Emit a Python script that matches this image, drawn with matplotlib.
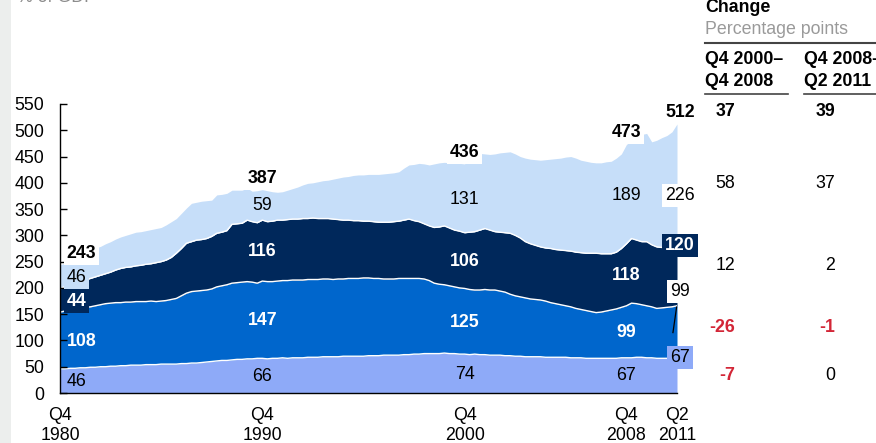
import numpy as np
import matplotlib
matplotlib.use("Agg")
import matplotlib.pyplot as plt
from matplotlib.transforms import blended_transform_factory
from matplotlib.patches import Rectangle
from matplotlib.lines import Line2D

plt.rcParams['font.family'] = ['Liberation Sans', 'DejaVu Sans']

# ---------------- data (% of GDP), quarterly Q4 1980 .. Q2 2011 ----------------
start_year = 1980.75  # Q4 1980
households = [
    46, 46, 47, 47, 48, 48, 49, 49, 50, 50,
    51, 51, 52, 52, 53, 53, 53, 54, 54, 54,
    55, 55, 55, 55, 56, 56, 57, 57, 58, 59,
    60, 61, 62, 62, 63, 64, 64, 65, 65, 66,
    66, 65, 66, 66, 67, 66, 67, 67, 67, 68,
    68, 68, 69, 69, 69, 69, 70, 70, 70, 70,
    70, 71, 71, 71, 72, 72, 72, 72, 73, 73,
    74, 74, 75, 75, 75, 75, 76, 75, 75, 74,
    74, 73, 74, 73, 73, 72, 72, 72, 71, 71,
    70, 70, 69, 69, 69, 69, 68, 68, 68, 68,
    68, 67, 67, 67, 66, 66, 66, 66, 66, 66,
    66, 67, 67, 67, 68, 68, 67, 67, 66, 66,
    66, 66, 67]
corporations = [
    108, 110, 111, 113, 114, 115, 115, 117, 118, 120,
    120, 121, 120, 121, 120, 121, 121, 120, 121, 120,
    120, 121, 123, 125, 129, 134, 136, 137, 137, 137,
    138, 141, 142, 144, 146, 146, 147, 147, 146, 143,
    147, 147, 146, 147, 147, 148, 148, 148, 148, 148,
    148, 148, 148, 148, 147, 148, 147, 148, 148, 148,
    149, 148, 147, 147, 145, 145, 145, 146, 145, 145,
    144, 144, 142, 139, 134, 132, 130, 129, 127, 126,
    125, 124, 122, 123, 124, 124, 124, 122, 121, 117,
    115, 113, 112, 110, 109, 108, 107, 104, 102, 100,
    98, 97, 94, 92, 91, 89, 87, 88, 90, 92,
    94, 96, 99, 104, 102, 100, 99, 97, 95, 96,
    97, 98, 99]
financial = [
    44, 47, 49, 50, 51, 52, 54, 55, 56, 57,
    59, 62, 65, 66, 67, 68, 69, 71, 71, 74,
    75, 77, 80, 86, 90, 95, 95, 97, 97, 98,
    100, 102, 102, 103, 112, 112, 112, 117, 115, 115,
    116, 114, 115, 116, 115, 116, 116, 116, 117, 116,
    117, 116, 115, 115, 115, 113, 112, 111, 110, 110,
    108, 108, 108, 107, 108, 108, 109, 109, 111, 113,
    110, 108, 105, 104, 106, 109, 112, 110, 108, 108,
    106, 109, 111, 114, 116, 114, 111, 112, 113, 116,
    115, 112, 107, 105, 103, 101, 101, 103, 103, 104,
    105, 106, 107, 108, 109, 111, 113, 111, 109, 107,
    108, 112, 118, 123, 121, 120, 122, 118, 117, 115,
    114, 112, 120]
government = [
    46, 44, 45, 46, 47, 50, 52, 55, 55, 57,
    58, 59, 60, 61, 63, 64, 64, 64, 65, 65,
    65, 67, 68, 66, 67, 67, 73, 72, 73, 72,
    69, 73, 72, 71, 65, 64, 63, 61, 58, 61,
    58, 59, 56, 53, 54, 56, 58, 61, 64, 67,
    67, 70, 72, 73, 76, 79, 82, 83, 86, 87,
    88, 89, 90, 91, 92, 93, 93, 94, 99, 103,
    107, 111, 114, 116, 121, 122, 121, 124, 127, 129,
    131, 144, 148, 146, 142, 144, 148, 151, 153, 155,
    155, 155, 159, 161, 163, 165, 168, 170, 173, 175,
    178, 180, 179, 176, 175, 173, 172, 173, 175, 176,
    179, 180, 189, 186, 197, 204, 206, 196, 203, 209,
    213, 221, 226]

tick_years = [1980.75, 1990.75, 2000.75, 2008.75, 2011.25]
tick_labels = ["Q4\n1980", "Q4\n1990", "Q4\n2000", "Q4\n2008", "Q2\n2011"]

# labelled quarters and values as printed on the chart
label_years = [1980.75, 1990.75, 2000.75, 2008.75]
lab_total = [243, 387, 436, 473]
lab_gov = [46, 59, 131, 189]
lab_fin = [44, 116, 106, 118]
lab_corp = [108, 147, 125, 99]
lab_hh = [46, 66, 74, 67]
end_total, end_gov, end_fin, end_corp, end_hh = 512, 226, 120, 99, 67

# change table (percentage points)
change_cols = ["Q4 2000–\nQ4 2008", "Q4 2008–\nQ2 2011"]
change_total = [37, 39]
change_gov = [58, 37]
change_fin = [12, 2]
change_corp = [-26, -1]
change_hh = [-7, 0]

# ---------------- style ----------------
C_HH = '#8EAAF8'
C_CORP = '#0066CC'
C_FIN = '#00285B'
C_GOV = '#C6DEF9'
C_RED = '#D32637'
FS = 12.8

W, H = 876, 443
fig = plt.figure(figsize=(W / 100, H / 100), dpi=100)
def fx(px): return px / W
def fy(py): return 1 - py / H

ax = fig.add_axes([fx(60), fy(393), fx(677) - fx(60), fy(104) - fy(393)])

# left gray strip
fig.patches.append(Rectangle((0, 0), fx(11), 1, transform=fig.transFigure,
                             facecolor='#ECEEED', edgecolor='none', zorder=0))

hh = np.array(households, float)
co = np.array(corporations, float)
fi = np.array(financial, float)
gv = np.array(government, float)
years = start_year + 0.25 * np.arange(len(hh))
b1 = hh
b2 = b1 + co
b3 = b2 + fi
b4 = b3 + gv

ax.fill_between(years, 0, b1, color=C_HH, lw=0, zorder=1)
ax.fill_between(years, b1, b2, color=C_CORP, lw=0, zorder=1)
ax.fill_between(years, b2, b3, color=C_FIN, lw=0, zorder=1)
ax.fill_between(years, b3, b4, color=C_GOV, lw=0, zorder=1)
for b in (b1, b2, b3):
    ax.plot(years, b, color='white', lw=1.0, zorder=1.2)

ax.set_xlim(start_year, years[-1])
ax.set_ylim(0, 550)
ax.set_yticks(np.arange(0, 551, 50))
ax.tick_params(axis='y', direction='in', length=5, width=1, labelsize=FS,
               pad=11.5, colors='black')
ax.set_xticks([])
for s in ('top', 'right'):
    ax.spines[s].set_visible(False)
ax.spines['left'].set_linewidth(1)
ax.spines['bottom'].set_linewidth(1)

# x labels
tr = blended_transform_factory(ax.transData, fig.transFigure)
for yv, lab in zip(tick_years, tick_labels):
    l1, l2 = lab.split("\n")
    ax.text(yv, fy(416), l1, transform=tr, ha='center', va='center', fontsize=FS)
    ax.text(yv, fy(436), l2, transform=tr, ha='center', va='center', fontsize=FS)

def idx(yr):
    return int(round((yr - start_year) / 0.25))

def put(x, y, s, color='black', bold=False, ha='center', box=None):
    kw = {}
    if box is not None:
        kw['bbox'] = dict(facecolor=box, edgecolor='none', pad=2.2)
    ax.text(x, y, s, color=color, ha=ha, va='center', fontsize=FS,
            fontweight='bold' if bold else 'normal', zorder=5, **kw)

for k, yr in enumerate(label_years):
    i = idx(yr)
    first = (k == 0)
    x = yr + 0.33 if first else yr
    ha = 'left' if first else 'center'
    put(x, b4[i] + 22, str(lab_total[k]), bold=True, ha=ha, box='white')
    put(x, (b3[i] + b4[i]) / 2 - 2, str(lab_gov[k]), ha=ha, box=C_GOV if first else None)
    put(x, (b2[i] + b3[i]) / 2 - 2, str(lab_fin[k]), color='white', bold=True, ha=ha,
        box=C_FIN if first else None)
    put(x, (b1[i] + b2[i]) / 2 - 2, str(lab_corp[k]), color='white', bold=True, ha=ha)
    put(x, b1[i] / 2 - 1, str(lab_hh[k]), ha=ha)

# end-of-series labels
xe = years[-1] + 0.15
put(xe, b4[-1] + 22, str(end_total), bold=True)
put(xe, b4[-1] - 137, str(end_gov), box='white')
put(xe, b3[-1] - 5, str(end_fin), color='white', bold=True, box=C_FIN)
put(xe, b2[-1] + 27, str(end_corp), box='white')
put(xe, b1[-1] + 0.5, str(end_hh), box=C_HH)
ax.plot([years[-1] - 0.02, years[-1] - 0.2], [b2[-1] - 2.5, (b1[-1] + b2[-1]) / 2 - 1.5],
        color='black', lw=0.9, zorder=4, clip_on=False)

# title fragment at the very top (cut off, as in the source)
fig.text(fx(17), fy(2.5), "% of GDP", color='#8C8C8C', fontsize=FS, va='baseline', ha='left')

# change table
fig.text(fx(705), fy(8), "Change", fontweight='bold', fontsize=FS, va='center', ha='left')
fig.text(fx(705), fy(29), "Percentage points", color='#9A9A9A', fontsize=FS, va='center', ha='left')
fig.add_artist(Line2D([fx(705), fx(876)], [fy(43), fy(43)], color='#444444', lw=1.5))
col_left = [705, 804]
col_right = [735, 835]
for c, lab in enumerate(change_cols):
    l1, l2 = lab.split("\n")
    fig.text(fx(col_left[c]), fy(60), l1, fontweight='bold', fontsize=FS, va='center', ha='left')
    fig.text(fx(col_left[c]), fy(82), l2, fontweight='bold', fontsize=FS, va='center', ha='left')
fig.add_artist(Line2D([fx(705), fx(788)], [fy(94), fy(94)], color='#444444', lw=1.2))
fig.add_artist(Line2D([fx(804), fx(876)], [fy(94), fy(94)], color='#444444', lw=1.2))

rows = [(change_total, 112, True), (change_gov, 184, False), (change_fin, 266, False),
        (change_corp, 327, False), (change_hh, 375, False)]
for vals, py, bold_row in rows:
    for c, v in enumerate(vals):
        neg = v < 0
        fig.text(fx(col_right[c]), fy(py), f"{v}",
                 color=C_RED if neg else 'black',
                 fontweight='bold' if (neg or bold_row) else 'normal',
                 fontsize=FS, va='center', ha='right')

fig.savefig("out.png", dpi=100)
